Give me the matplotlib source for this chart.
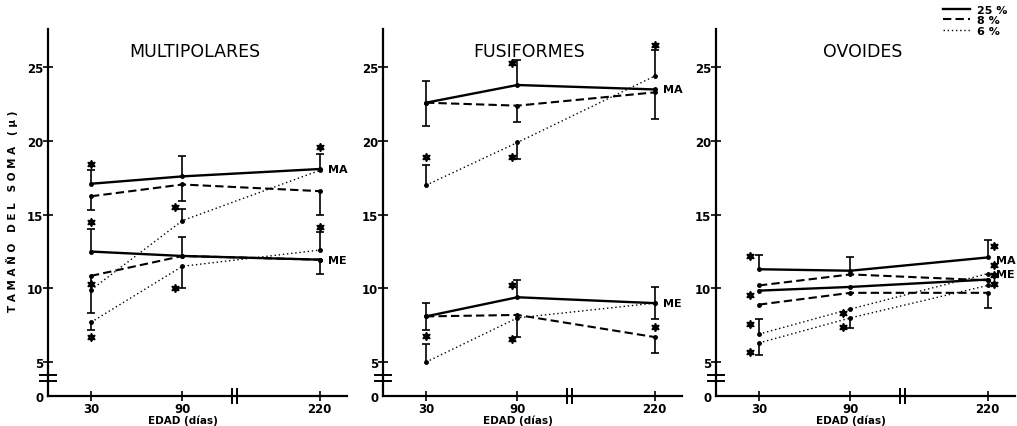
import matplotlib
matplotlib.use("Agg")
import matplotlib.pyplot as plt
import matplotlib.transforms as mtransforms
from matplotlib.lines import Line2D
import numpy as np

# ages (days) shared by every panel
AGES = [30, 90, 220]
PANEL_TITLES = ["MULTIPOLARES", "FUSIFORMES", "OVOIDES"]
PCT_LABELS = ["25 %", "8 %", "6 %"]
Y_TICKS = [0, 5, 10, 15, 20, 25]

# soma size (mu); lo / hi = error bar below / above the mean (0 = none)
MULTI_MA_25 = [17.1, 17.6, 18.1]
MULTI_MA_25_LO = [0, 0, 0]
MULTI_MA_25_HI = [0.9, 1.4, 1.0]
MULTI_MA_8 = [16.25, 17.05, 16.6]
MULTI_MA_8_LO = [0.9, 1.1, 1.6]
MULTI_MA_8_HI = [0, 0, 0]
MULTI_MA_6 = [9.9, 14.6, 18.0]
MULTI_MA_6_LO = [0, 0, 0]
MULTI_MA_6_HI = [0, 0.8, 0]
MULTI_ME_25 = [12.5, 12.2, 11.95]
MULTI_ME_25_LO = [0, 0, 1.0]
MULTI_ME_25_HI = [1.5, 1.3, 0]
MULTI_ME_8 = [10.85, 12.2, 11.95]
MULTI_ME_8_LO = [2.5, 0, 0]
MULTI_ME_8_HI = [0, 0, 0]
MULTI_ME_6 = [7.7, 11.5, 12.6]
MULTI_ME_6_LO = [0.5, 1.5, 0]
MULTI_ME_6_HI = [0, 0, 1.2]
MULTI_STARS = [(30, 18.45), (30, 14.5), (30, 10.3), (30, 6.7),
               (90, 15.5), (90, 10.0), (220, 19.6), (220, 14.2)]

FUSI_MA_25 = [22.6, 23.8, 23.5]
FUSI_MA_25_LO = [1.6, 0, 0]
FUSI_MA_25_HI = [1.5, 1.7, 0]
FUSI_MA_8 = [22.6, 22.4, 23.3]
FUSI_MA_8_LO = [0, 1.1, 1.8]
FUSI_MA_8_HI = [0, 0, 0]
FUSI_MA_6 = [17.0, 19.9, 24.4]
FUSI_MA_6_LO = [0, 1.1, 0]
FUSI_MA_6_HI = [1.4, 0, 1.8]
FUSI_ME_25 = [8.1, 9.4, 9.0]
FUSI_ME_25_LO = [0.9, 0, 1.1]
FUSI_ME_25_HI = [0.9, 1.2, 1.1]
FUSI_ME_8 = [8.1, 8.2, 6.7]
FUSI_ME_8_LO = [0, 1.5, 1.1]
FUSI_ME_8_HI = [0, 0, 0]
FUSI_ME_6 = [5.0, 8.0, 9.0]
FUSI_ME_6_LO = [0, 0, 0]
FUSI_ME_6_HI = [1.2, 0, 0]
FUSI_STARS = [(30, 18.9), (30, 6.8), (90, 25.3), (90, 18.9),
              (90, 10.2), (90, 6.6), (220, 26.5), (220, 7.4)]

OVO_MA_25 = [11.3, 11.2, 12.1]
OVO_MA_25_LO = [0, 0, 0]
OVO_MA_25_HI = [1.0, 0.9, 1.2]
OVO_MA_8 = [10.2, 10.95, 10.55]
OVO_MA_8_LO = [0, 0, 0]
OVO_MA_8_HI = [0, 0, 0]
OVO_MA_6 = [6.9, 8.6, 11.0]
OVO_MA_6_LO = [0, 0, 0]
OVO_MA_6_HI = [1.0, 0, 0]
OVO_ME_25 = [9.85, 10.1, 10.6]
OVO_ME_25_LO = [0, 0, 0]
OVO_ME_25_HI = [0, 0, 0]
OVO_ME_8 = [8.9, 9.7, 9.7]
OVO_ME_8_LO = [0, 0, 1.0]
OVO_ME_8_HI = [0, 0, 0]
OVO_ME_6 = [6.3, 8.0, 10.2]
OVO_ME_6_LO = [0.8, 0.7, 0]
OVO_ME_6_HI = [0, 0, 0]
OVO_STARS = [(30, 12.2), (30, 9.55), (30, 7.6), (30, 5.7), (90, 8.3), (90, 7.4),
             (220, 12.9), (220, 11.6), (220, 10.9), (220, 10.3)]

# where the MA / ME tags sit (value at 220 days)
MULTI_TAGS = [("MA", 18.1), ("ME", 11.95)]
FUSI_TAGS = [("MA", 23.5), ("ME", 9.0)]
OVO_TAGS = [("MA", 11.9), ("ME", 11.0)]

PANELS = [
    (MULTI_STARS, MULTI_TAGS, [
        ("25", MULTI_MA_25, MULTI_MA_25_LO, MULTI_MA_25_HI),
        ("8", MULTI_MA_8, MULTI_MA_8_LO, MULTI_MA_8_HI),
        ("6", MULTI_MA_6, MULTI_MA_6_LO, MULTI_MA_6_HI),
        ("25", MULTI_ME_25, MULTI_ME_25_LO, MULTI_ME_25_HI),
        ("8", MULTI_ME_8, MULTI_ME_8_LO, MULTI_ME_8_HI),
        ("6", MULTI_ME_6, MULTI_ME_6_LO, MULTI_ME_6_HI)]),
    (FUSI_STARS, FUSI_TAGS, [
        ("25", FUSI_MA_25, FUSI_MA_25_LO, FUSI_MA_25_HI),
        ("8", FUSI_MA_8, FUSI_MA_8_LO, FUSI_MA_8_HI),
        ("6", FUSI_MA_6, FUSI_MA_6_LO, FUSI_MA_6_HI),
        ("25", FUSI_ME_25, FUSI_ME_25_LO, FUSI_ME_25_HI),
        ("8", FUSI_ME_8, FUSI_ME_8_LO, FUSI_ME_8_HI),
        ("6", FUSI_ME_6, FUSI_ME_6_LO, FUSI_ME_6_HI)]),
    (OVO_STARS, OVO_TAGS, [
        ("25", OVO_MA_25, OVO_MA_25_LO, OVO_MA_25_HI),
        ("8", OVO_MA_8, OVO_MA_8_LO, OVO_MA_8_HI),
        ("6", OVO_MA_6, OVO_MA_6_LO, OVO_MA_6_HI),
        ("25", OVO_ME_25, OVO_ME_25_LO, OVO_ME_25_HI),
        ("8", OVO_ME_8, OVO_ME_8_LO, OVO_ME_8_HI),
        ("6", OVO_ME_6, OVO_ME_6_LO, OVO_ME_6_HI)]),
]

STYLES = {
    "25": dict(linestyle="-", linewidth=1.7),
    "8": dict(linestyle=(0, (4, 2)), linewidth=1.5),
    "6": dict(linestyle=(0, (1, 2)), linewidth=1.0),
}
# star offsets in pixels per panel, per age
STAR_DX = [{30: 0, 90: -7, 220: 0}, {30: 0, 90: -5, 220: 0}, {30: -9, 90: -7, 220: 6}]
TAG_DX = [8, 8, 8]
AX_LEFTS = [48, 383, 716]


# broken x axis: 30->0, 90->1, 220->2.5
def x_fwd(d):
    d = np.asarray(d, dtype=float)
    return np.where(d <= 90, (d - 30) / 60.0, 1 + (d - 90) * 1.5 / 130.0)


def x_inv(p):
    p = np.asarray(p, dtype=float)
    return np.where(p <= 1, 30 + p * 60.0, 90 + (p - 1) * 130.0 / 1.5)


# broken y axis: 0..5 squeezed
def y_fwd(v):
    v = np.asarray(v, dtype=float)
    return np.where(v >= 5, v, 5 - (5 - v) * 0.46)


def y_inv(s):
    s = np.asarray(s, dtype=float)
    return np.where(s >= 5, s, 5 - (5 - s) / 0.46)


W, H = 1017, 427
fig = plt.figure(figsize=(W / 100, H / 100), dpi=100)

for i, (title, (stars, tags, series)) in enumerate(zip(PANEL_TITLES, PANELS)):
    ax = fig.add_axes([AX_LEFTS[i] / W, 30 / H, 299 / W, 367 / H])
    ax.set_xscale("function", functions=(x_fwd, x_inv))
    ax.set_yscale("function", functions=(y_fwd, y_inv))
    ax.set_xlim(float(x_inv(-0.47)), float(x_inv(2.8)))
    ax.set_ylim(0, 27.6)
    for s in ("top", "right"):
        ax.spines[s].set_visible(False)
    for s in ("left", "bottom"):
        ax.spines[s].set_linewidth(1.6)
    ax.set_xticks(AGES)
    ax.set_xticklabels([str(a) for a in AGES], fontsize=8.5, fontweight="bold")
    ax.set_yticks(Y_TICKS)
    ax.set_yticklabels([str(t) for t in Y_TICKS], fontsize=8.5, fontweight="bold")
    ax.tick_params(axis="both", direction="inout", length=7, width=1.2)
    ax.tick_params(axis="x", pad=0.5)
    ax.tick_params(axis="y", pad=0)
    ax.yaxis.get_major_ticks()[0].tick1line.set_visible(False)
    ax.xaxis.set_minor_locator(plt.NullLocator())
    ax.yaxis.set_minor_locator(plt.NullLocator())

    for pct, y, lo, hi in series:
        y = np.array(y)
        lo = np.array(lo)
        hi = np.array(hi)
        ax.plot(AGES, y, color="k", **STYLES[pct])
        ax.plot(AGES, y, "o", color="k", ms=2.5)
        for err, sign in ((lo, -1), (hi, 1)):
            m = err > 0
            if not m.any():
                continue
            xs = np.array(AGES)[m]
            ends = y[m] + sign * err[m]
            ax.vlines(xs, y[m], ends, color="k", lw=1.2)
            ax.plot(xs, ends, "_", color="k", ms=6, mew=1.2)

    for age, val in stars:
        off = mtransforms.offset_copy(ax.transData, fig=fig, x=STAR_DX[i][age], y=0, units="dots")
        ax.plot([age], [val], marker=(6, 1, 0), color="k", ms=6, transform=off, clip_on=False)

    for tag, val in tags:
        off = mtransforms.offset_copy(ax.transData, fig=fig, x=TAG_DX[i], y=0, units="dots")
        ax.text(AGES[-1], val, tag, transform=off, ha="left", va="center", fontsize=8, fontweight="bold")

    ax.text(0.49, 0.94, title, transform=ax.transAxes, ha="center", va="center", fontsize=12.5)
    ax.text(0.45, -0.066, "EDAD (días)", transform=ax.transAxes, ha="center", va="center",
            fontsize=7.5, fontweight="bold")

    # break marks
    for yy in (0.042, 0.056):
        ax.plot([-0.027, 0.027], [yy, yy], transform=ax.transAxes, color="k", lw=1.4, clip_on=False)
    for xx in (0.617, 0.632):
        ax.plot([xx, xx], [-0.02, 0.02], transform=ax.transAxes, color="k", lw=1.4, clip_on=False)

fig.text(0.012, 0.505, "T A M A Ñ O   D E L   S O M A   ( µ )", rotation=90,
         ha="center", va="center", fontsize=7.5, fontweight="bold")

handles = [Line2D([], [], color="k", **STYLES[k]) for k in ("25", "8", "6")]
fig.legend(handles, PCT_LABELS, loc="upper right", bbox_to_anchor=(1.0, 1.01), frameon=False,
           handlelength=2.4, labelspacing=0.05, handletextpad=0.6,
           prop=dict(size=8, weight="bold"))

fig.savefig("out.png", dpi=100, facecolor="white")
